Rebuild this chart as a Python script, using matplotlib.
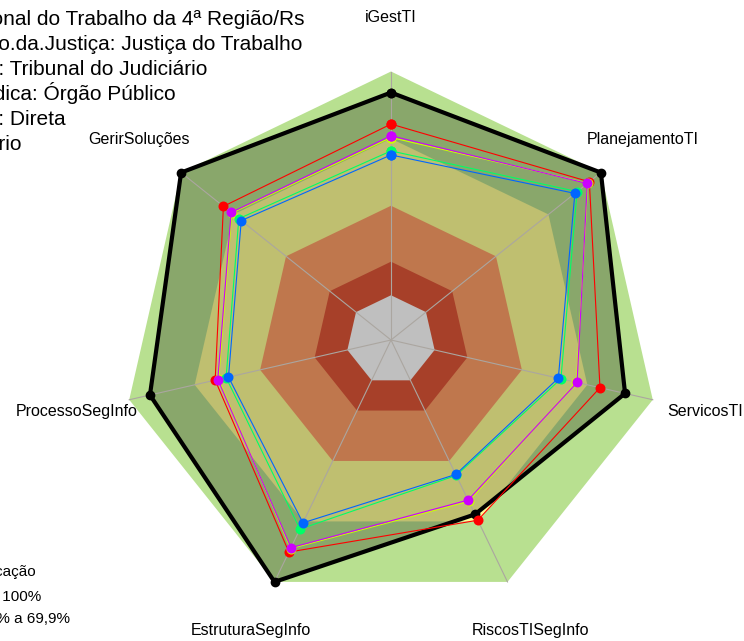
import numpy as np
import matplotlib
matplotlib.use("Agg")
import matplotlib.pyplot as plt
from matplotlib.patches import Polygon
from matplotlib.transforms import IdentityTransform

plt.rcParams['font.family'] = ['Liberation Sans', 'DejaVu Sans']

# ---------------- data ----------------
axes_labels = ["iGestTI", "PlanejamentoTI", "ServicosTI", "RiscosTISegInfo",
               "EstruturaSegInfo", "ProcessoSegInfo", "GerirSoluções"]

# values as fractions (0..1) on each axis
tribunal   = [0.906, 1.000, 0.873, 0.665, 1.000, 0.905, 1.000]   # black
ramo       = [0.765, 0.934, 0.758, 0.694, 0.852, 0.606, 0.758]   # red
tipo       = [0.705, 0.925, 0.650, 0.600, 0.835, 0.590, 0.710]   # yellow-green
natureza   = [0.645, 0.864, 0.579, 0.472, 0.738, 0.556, 0.670]   # green
administr  = [0.627, 0.851, 0.567, 0.467, 0.707, 0.545, 0.656]   # blue
poder      = [0.713, 0.922, 0.653, 0.594, 0.830, 0.594, 0.714]   # purple

series_values = [ramo, tipo, natureza, administr, poder]
series_colors = ["#FF0000", "#CCFF00", "#00FF66", "#0066FF", "#CC00FF"]

legend_lines = ["Tribunal Regional do Trabalho da 4ª Região/Rs",
                "Ramo.da.Justiça: Justiça do Trabalho",
                "Tipo.Órgão: Tribunal do Judiciário",
                "Natureza.Jurídica: Órgão Público",
                "Administração: Direta",
                "Poder: Judiciário"]

band_levels = [1.0, 0.70, 0.40, 0.15, 0.0]
band_colors = ["#B8E090", "#FFFF96", "#FFA068", "#E05638", "#FFFFFF"]

class_lines = ["Classificação", "Aprimorado: 70% a 100%", "Intermediário: 40% a 69,9%"]

# ---------------- geometry ----------------
W, H = 744, 641
CX, CY, RPX = 391.0, 340.0, 268.5
n = len(axes_labels)
theta = np.deg2rad(90 - np.arange(n) * 360.0 / n)

def rad(v):
    return 1.0 / 6.0 + np.asarray(v) * 5.0 / 6.0

def xy(vals):
    r = rad(vals)
    return np.column_stack([r * np.cos(theta), r * np.sin(theta)])

fig = plt.figure(figsize=(W / 100, H / 100), dpi=100)
ax = fig.add_axes([0, 0, 1, 1])
ax.set_xlim(-CX / RPX, (W - CX) / RPX)
ax.set_ylim(-(H - CY) / RPX, CY / RPX)
ax.axis("off")

# background bands
for lvl, col in zip(band_levels, band_colors):
    ax.add_patch(Polygon(xy([lvl] * n), closed=True, facecolor=col,
                         edgecolor="none", zorder=1))

# tribunal series (black, translucent fill)
pts = xy(tribunal)
ax.add_patch(Polygon(pts, closed=True, facecolor="black", alpha=0.25,
                     edgecolor="none", zorder=2))

# axis spokes
for t in theta:
    ax.plot([0, np.cos(t)], [0, np.sin(t)], color="#ABA6A0", lw=0.8, zorder=3)

cl = np.vstack([pts, pts[:1]])
ax.plot(cl[:, 0], cl[:, 1], color="black", lw=3, zorder=4,
        marker="o", markersize=6, solid_joinstyle="miter")

# comparison series
for vals, col in zip(series_values, series_colors):
    p = xy(vals)
    p = np.vstack([p, p[:1]])
    ax.plot(p[:, 0], p[:, 1], color=col, lw=0.8, zorder=5,
            marker="o", markersize=7.2, markeredgewidth=0)

# axis labels
for lab, t in zip(axes_labels, theta):
    ax.text(1.2 * np.cos(t), 1.2 * np.sin(t), lab, ha="center", va="center",
            fontsize=11.5, zorder=6)

# top-left legend text (partly off the figure)
tr = IdentityTransform()
right_edges = [305, 302, 207, 176, 66, 22]
for i, (txt, xr) in enumerate(zip(legend_lines, right_edges)):
    fig.text(xr, H - (25 + 25 * i), txt, transform=tr, ha="right",
             va="baseline", fontsize=15)

# bottom-left classification legend
cls_right = [36, 41, 70]
cls_base = [576, 601, 623]
for txt, xr, yb in zip(class_lines, cls_right, cls_base):
    fig.text(xr, H - yb, txt, transform=tr, ha="right", va="baseline", fontsize=11)

fig.savefig("out.png", dpi=100)
